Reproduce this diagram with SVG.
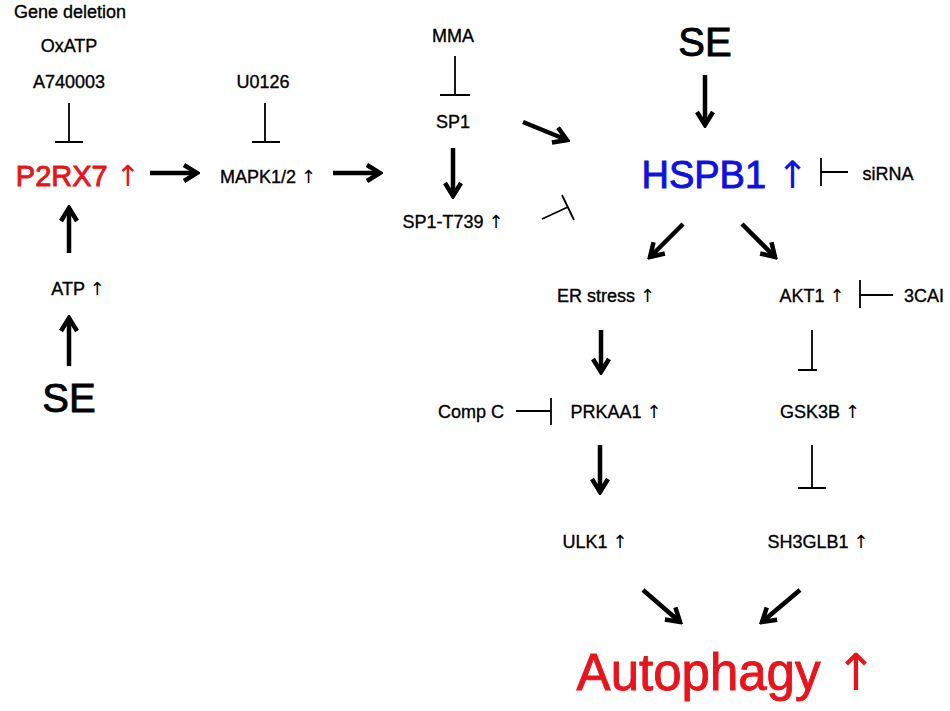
<svg xmlns="http://www.w3.org/2000/svg" width="950" height="711" viewBox="0 0 950 711">
<defs>
<marker id="ah" markerUnits="userSpaceOnUse" viewBox="0 0 20 20" refX="17" refY="10" markerWidth="20" markerHeight="20" orient="auto">
<polyline points="4,2 17,10 4,18" fill="none" stroke="#000" stroke-width="4.5" stroke-linejoin="miter"/>
</marker>
<style>
text{font-family:"Liberation Sans",Arial,sans-serif;fill:#000;text-anchor:middle}
.s{font-size:18px;stroke:#000;stroke-width:0.35}
.L{stroke-width:0.9}
.a{font-family:"DejaVu Sans",sans-serif;font-weight:normal;stroke-width:0}
.act{stroke:#000;stroke-width:4.5;fill:none;marker-end:url(#ah)}
.inh{stroke:#000;stroke-width:1.8;fill:none}
</style>
</defs>
<rect width="950" height="711" fill="#fff"/>
<g id="gene-deletion"><text class="s" x="70" y="18">Gene deletion</text></g>
<g id="oxatp"><text class="s" x="69" y="52">OxATP</text></g>
<g id="a740003"><text class="s" x="69" y="88">A740003</text></g>
<g id="p2rx7"><text class="L" x="78" y="186" font-size="29" style="fill:#e8141c;stroke:#e8141c">P2RX7 <tspan class="a">↑</tspan></text></g>
<g id="atp"><text class="s" x="78" y="295">ATP <tspan class="a">↑</tspan></text></g>
<g id="se1"><text class="L" x="69" y="412" font-size="40" style="stroke:#000">SE</text></g>
<g id="u0126"><text class="s" x="263" y="88">U0126</text></g>
<g id="mapk"><text class="s" x="268" y="183">MAPK1/2 <tspan class="a">↑</tspan></text></g>
<g id="mma"><text class="s" x="453" y="42">MMA</text></g>
<g id="sp1"><text class="s" x="453" y="128">SP1</text></g>
<g id="sp1t739"><text class="s" x="453" y="228">SP1-T739 <tspan class="a">↑</tspan></text></g>
<g id="se2"><text class="L" x="705" y="56" font-size="40" style="stroke:#000">SE</text></g>
<g id="hspb1"><text class="L" x="725" y="188" font-size="38" style="fill:#1010e0;stroke:#1010e0">HSPB1 <tspan class="a">↑</tspan></text></g>
<g id="sirna"><text class="s" x="888" y="180">siRNA</text></g>
<g id="er"><text class="s" x="606" y="302">ER stress <tspan class="a">↑</tspan></text></g>
<g id="akt1"><text class="s" x="812" y="302">AKT1 <tspan class="a">↑</tspan></text></g>
<g id="cai"><text class="s" x="924" y="302">3CAI</text></g>
<g id="compc"><text class="s" x="471" y="418">Comp C</text></g>
<g id="prkaa1"><text class="s" x="616" y="418">PRKAA1 <tspan class="a">↑</tspan></text></g>
<g id="gsk3b"><text class="s" x="820" y="418">GSK3B <tspan class="a">↑</tspan></text></g>
<g id="ulk1"><text class="s" x="595" y="548">ULK1 <tspan class="a">↑</tspan></text></g>
<g id="sh3glb1"><text class="s" x="818" y="548">SH3GLB1 <tspan class="a">↑</tspan></text></g>
<g id="autophagy"><text class="L" x="727" y="690" font-size="51" style="fill:#e8141c;stroke:#e8141c">Autophagy <tspan class="a">↑</tspan></text></g>
<g id="connectors">
<path class="inh" d="M69,103V142M55,142H83"/>
<path class="inh" d="M265,103V142M252,142H280"/>
<path class="inh" d="M455,56V95M440,95H470"/>
<path class="inh" d="M542,219L568,207M562,195L574,220"/>
<path class="inh" d="M848,172H821M821,158V186"/>
<path class="inh" d="M893,295H860M860,280V308"/>
<path class="inh" d="M812,330V370M798,370H817"/>
<path class="inh" d="M516,411H551M551,398V425"/>
<path class="inh" d="M812,445V488M798,488H826"/>
<line class="act" x1="69" y1="253" x2="69" y2="208"/>
<line class="act" x1="69" y1="366" x2="69" y2="318"/>
<line class="act" x1="150" y1="173" x2="197" y2="173"/>
<line class="act" x1="333" y1="173" x2="380" y2="173"/>
<line class="act" x1="453" y1="148" x2="453" y2="196"/>
<line class="act" x1="523" y1="122" x2="567" y2="140"/>
<line class="act" x1="705" y1="75" x2="705" y2="125"/>
<line class="act" x1="683" y1="224" x2="650" y2="257"/>
<line class="act" x1="742" y1="224" x2="775" y2="257"/>
<line class="act" x1="601" y1="330" x2="601" y2="372"/>
<line class="act" x1="600" y1="445" x2="600" y2="492"/>
<line class="act" x1="643" y1="590" x2="680" y2="622"/>
<line class="act" x1="800" y1="590" x2="762" y2="622"/>
</g>
</svg>
